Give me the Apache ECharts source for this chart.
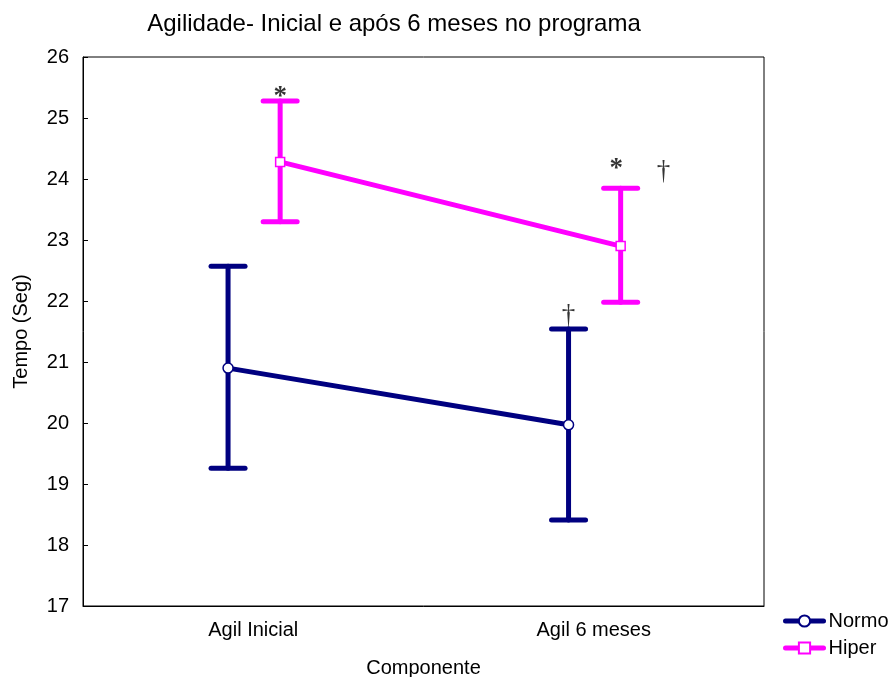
<!DOCTYPE html>
<html><head><meta charset="utf-8">
<script src="https://cdn.jsdelivr.net/npm/echarts@6/dist/echarts.min.js"></script>
<style>html,body{margin:0;padding:0;background:#fff}#c{width:890px;height:677px}</style>
</head><body><div id="c"></div>
<script>
const categories = ['Agil Inicial', 'Agil 6 meses'];
const normoMean = [20.90, 19.97];
const normoLow  = [19.26, 18.41];
const normoHigh = [22.57, 21.54];
const hiperMean = [24.28, 22.90];
const hiperLow  = [23.30, 21.98];
const hiperHigh = [25.28, 23.85];
// annotations
const annotText = ['*', '*', '†', '†'];
const annotCat  = [0, 1, 1, 1];
const annotY    = [25.34, 24.17, 24.12, 21.76];
const annotSer  = ['hiper', 'star', 'extra', 'normo'];

const NAVY = '#000080', MAG = '#FF00FF';
const OFF = { normo: -0.074, hiper: 0.079, star: 0.066, extra: 0.205 };
const FONT = 'Liberation Sans, Arial, sans-serif';

function pts(mean, off) { return mean.map((v, i) => [i + off, v]); }
function errData(low, high, off) { return low.map((l, i) => [i + off, l, high[i]]); }

function errRender(color) {
  return function (params, api) {
    const x = api.value(0);
    const lo = api.coord([x, api.value(1)]);
    const hi = api.coord([x, api.value(2)]);
    const hw = 17;
    const st = { stroke: color, lineWidth: 5, lineCap: 'round' };
    return { type: 'group', children: [
      { type: 'line', shape: { x1: lo[0], y1: lo[1], x2: hi[0], y2: hi[1] }, style: st },
      { type: 'line', shape: { x1: lo[0] - hw, y1: lo[1], x2: lo[0] + hw, y2: lo[1] }, style: st },
      { type: 'line', shape: { x1: hi[0] - hw, y1: hi[1], x2: hi[0] + hw, y2: hi[1] }, style: st }
    ]};
  };
}

const annotData = annotText.map((t, i) => ({ value: [annotCat[i] + OFF[annotSer[i]], annotY[i]],
  label: { formatter: t, fontWeight: t === '*' ? 'bold' : 'normal', fontSize: 27 } }));

const chart = echarts.init(document.getElementById('c'));
chart.setOption({
  animation: false,
  backgroundColor: '#fff',
  textStyle: { fontFamily: FONT },
  title: { text: 'Agilidade- Inicial e após 6 meses no programa', left: 389, textAlign: 'center', top: 7,
    textStyle: { fontSize: 24, fontWeight: 'normal', color: '#000', fontFamily: FONT } },
  grid: { left: 83, right: 126, top: 57, bottom: 71, show: true, borderColor: '#000', borderWidth: 1, outerBoundsMode: 'none' },
  legend: { orient: 'vertical', left: 783, top: 611, padding: 0, itemWidth: 38, itemHeight: 14, itemGap: 7,
    textStyle: { fontSize: 20, color: '#000', fontFamily: FONT },
    lineStyle: { width: 5, cap: 'round' },
    data: ['Normo', 'Hiper'] },
  xAxis: [
    { type: 'category', data: categories, boundaryGap: true,
      name: 'Componente', nameLocation: 'middle', nameGap: 52,
      nameTextStyle: { fontSize: 20, color: '#000' },
      axisLine: { onZero: false, lineStyle: { color: '#000', width: 1 } },
      axisTick: { alignWithLabel: true, inside: true, length: 5, lineStyle: { color: '#000' } },
      axisLabel: { fontSize: 20, color: '#000', margin: 14 },
      splitLine: { show: false } },
    { type: 'value', min: -0.5, max: 1.5, show: false, splitLine: { show: false } }
  ],
  yAxis: { type: 'value', min: 17, max: 26, interval: 1,
    name: 'Tempo (Seg)', nameLocation: 'middle', nameGap: 52, nameRotate: 90,
    nameTextStyle: { fontSize: 20, color: '#000' },
    axisLine: { show: true, onZero: false, lineStyle: { color: '#000', width: 1 } },
    axisTick: { show: true, inside: true, length: 5, lineStyle: { color: '#000' } },
    axisLabel: { fontSize: 20, color: '#000', margin: 14 },
    splitLine: { show: false } },
  series: [
    { type: 'custom', name: 'NormoErr', xAxisIndex: 1, renderItem: errRender(NAVY), data: errData(normoLow, normoHigh, OFF.normo), z: 2, silent: true },
    { type: 'custom', name: 'HiperErr', xAxisIndex: 1, renderItem: errRender(MAG), data: errData(hiperLow, hiperHigh, OFF.hiper), z: 2, silent: true },
    { type: 'line', name: 'Normo', xAxisIndex: 1, data: pts(normoMean, OFF.normo), symbol: 'circle', symbolSize: 10,
      lineStyle: { color: NAVY, width: 5, cap: 'round' }, itemStyle: { color: '#fff', borderColor: NAVY, borderWidth: 1.5 }, color: NAVY, z: 5 },
    { type: 'line', name: 'Hiper', xAxisIndex: 1, data: pts(hiperMean, OFF.hiper), symbol: 'rect', symbolSize: 9,
      lineStyle: { color: MAG, width: 5, cap: 'round' }, itemStyle: { color: '#fff', borderColor: MAG, borderWidth: 1.5 }, color: MAG, z: 5 },
    { type: 'scatter', name: 'annot', xAxisIndex: 1, data: annotData, symbolSize: 0, silent: true,
      label: { show: true, position: 'inside', fontSize: 27, color: '#000', fontFamily: 'Liberation Serif, Times New Roman, serif' }, z: 6 }
  ]
});
</script></body></html>
